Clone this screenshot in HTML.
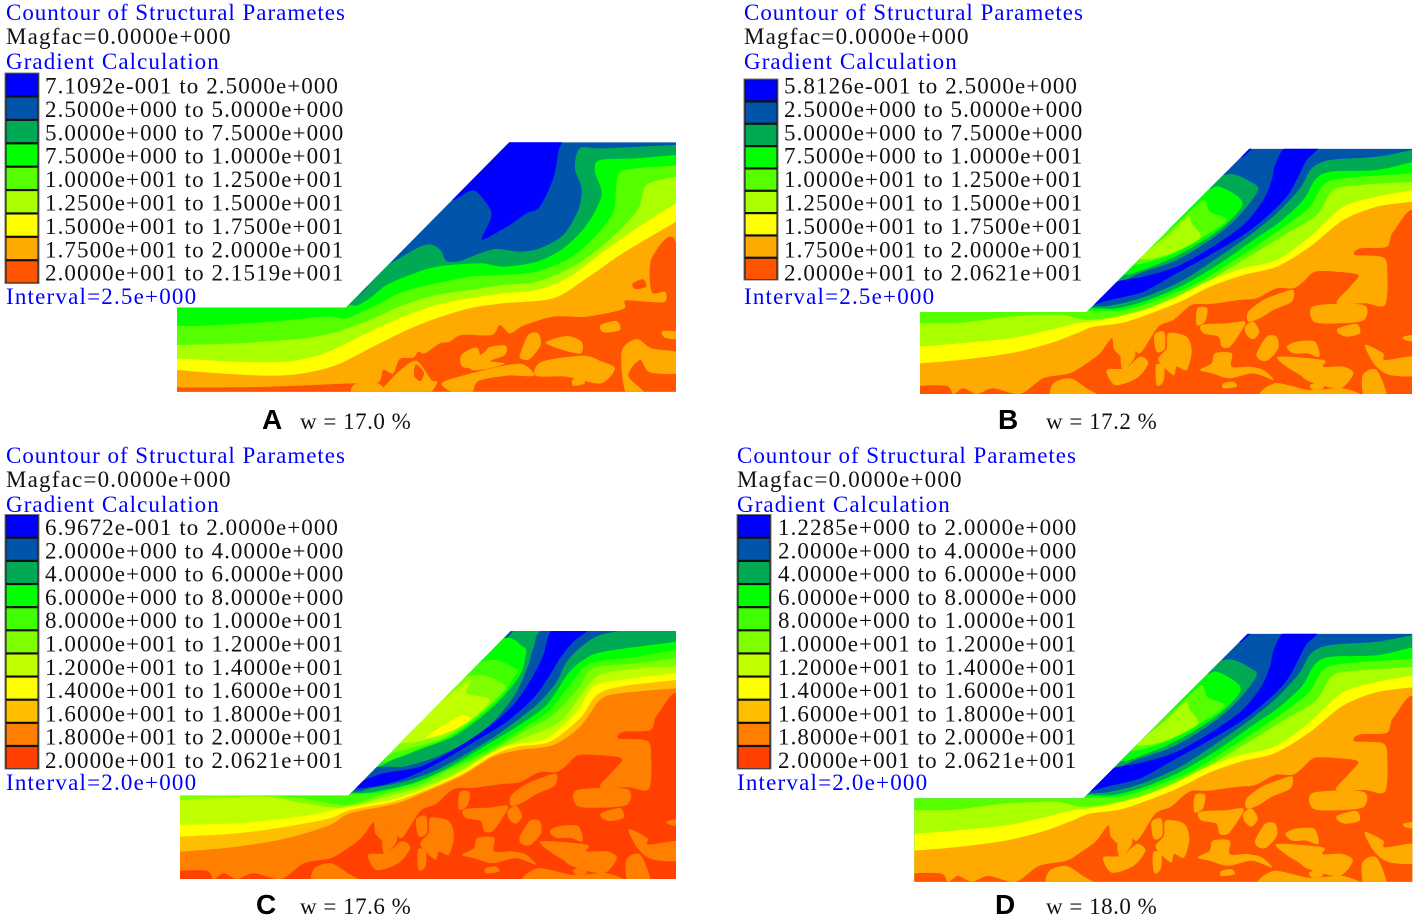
<!DOCTYPE html>
<html lang="en">
<head>
<meta charset="utf-8">
<title>Contours of structural parameters</title>
<style>
html,body{margin:0;padding:0;background:#fff;}
#figure{display:block;width:1417px;height:921px;}
text{font-family:"Liberation Serif",serif;font-size:23px;letter-spacing:1.08px;}
.blue{fill:#0000ff;}
.black{fill:#111;}
.title{letter-spacing:.98px;}
.wide{letter-spacing:1.2px;}
.tag{font-family:"Liberation Sans",sans-serif;font-weight:bold;font-size:28px;letter-spacing:0;fill:#000;}
.cap{letter-spacing:.5px;fill:#111;}
</style>
</head>
<body>
<svg id="figure" xmlns="http://www.w3.org/2000/svg" width="1417" height="921" viewBox="0 0 1417 921">
  <g>
    <text class="blue title" x="6" y="20">Countour of Structural Parametes</text>
    <text class="black wide" x="6" y="44">Magfac=0.0000e+000</text>
    <text class="blue" x="6" y="69">Gradient Calculation</text>
    <text class="blue wide" x="6" y="304">Interval=2.5e+000</text>
    <text class="tag" x="262" y="429">A</text>
    <text class="cap" x="300" y="429">w = 17.0 %</text>
  </g>
  <g>
    <text class="blue title" x="744" y="20">Countour of Structural Parametes</text>
    <text class="black wide" x="744" y="44">Magfac=0.0000e+000</text>
    <text class="blue" x="744" y="69">Gradient Calculation</text>
    <text class="blue wide" x="744" y="304">Interval=2.5e+000</text>
    <text class="tag" x="998" y="429">B</text>
    <text class="cap" x="1046" y="429">w = 17.2 %</text>
  </g>
  <g>
    <text class="blue title" x="6" y="463">Countour of Structural Parametes</text>
    <text class="black wide" x="6" y="487">Magfac=0.0000e+000</text>
    <text class="blue" x="6" y="512">Gradient Calculation</text>
    <text class="blue wide" x="6" y="790">Interval=2.0e+000</text>
    <text class="tag" x="256" y="914">C</text>
    <text class="cap" x="300" y="914">w = 17.6 %</text>
  </g>
  <g>
    <text class="blue title" x="737" y="463">Countour of Structural Parametes</text>
    <text class="black wide" x="737" y="487">Magfac=0.0000e+000</text>
    <text class="blue" x="737" y="512">Gradient Calculation</text>
    <text class="blue wide" x="737" y="790">Interval=2.0e+000</text>
    <text class="tag" x="995" y="914">D</text>
    <text class="cap" x="1046" y="914">w = 18.0 %</text>
  </g>
  <g id="plots"></g>
</svg>
<script>
/* Legend range labels */
const legendA = ["7.1092e-001 to 2.5000e+000","2.5000e+000 to 5.0000e+000","5.0000e+000 to 7.5000e+000","7.5000e+000 to 1.0000e+001","1.0000e+001 to 1.2500e+001","1.2500e+001 to 1.5000e+001","1.5000e+001 to 1.7500e+001","1.7500e+001 to 2.0000e+001","2.0000e+001 to 2.1519e+001"];
const legendB = ["5.8126e-001 to 2.5000e+000","2.5000e+000 to 5.0000e+000","5.0000e+000 to 7.5000e+000","7.5000e+000 to 1.0000e+001","1.0000e+001 to 1.2500e+001","1.2500e+001 to 1.5000e+001","1.5000e+001 to 1.7500e+001","1.7500e+001 to 2.0000e+001","2.0000e+001 to 2.0621e+001"];
const legendC = ["6.9672e-001 to 2.0000e+000","2.0000e+000 to 4.0000e+000","4.0000e+000 to 6.0000e+000","6.0000e+000 to 8.0000e+000","8.0000e+000 to 1.0000e+001","1.0000e+001 to 1.2000e+001","1.2000e+001 to 1.4000e+001","1.4000e+001 to 1.6000e+001","1.6000e+001 to 1.8000e+001","1.8000e+001 to 2.0000e+001","2.0000e+001 to 2.0621e+001"];
const legendD = ["1.2285e+000 to 2.0000e+000","2.0000e+000 to 4.0000e+000","4.0000e+000 to 6.0000e+000","6.0000e+000 to 8.0000e+000","8.0000e+000 to 1.0000e+001","1.0000e+001 to 1.2000e+001","1.2000e+001 to 1.4000e+001","1.4000e+001 to 1.6000e+001","1.6000e+001 to 1.8000e+001","1.8000e+001 to 2.0000e+001","2.0000e+001 to 2.0621e+001"];

/* Colour scales */
const nineColors = ["#0000ff","#0055aa","#00aa55","#00ff00","#55ff00","#aaff00","#ffff00","#ffaa00","#ff5500"];
const elevenColors = ["#0000ff","#0055aa","#00aa55","#00ff00","#40ff00","#80ff00","#bfff00","#ffff00","#ffbf00","#ff8000","#ff4000"];

/* Panel A contour lines, in mesh units */
const aBlueZone = [[1000,10],[1165,10],[1165,50],[1150,130],[1110,215],[1070,235],[1020,270],[945,312],[938,305],[965,235],[925,175],[900,168],[850,195],[830,170]];
const aLevel3 = [[22,500],[520,500],[640,375],[660,385],[750,335],[790,330],[815,350],[830,378],[870,378],[930,355],[980,342],[1050,350],[1110,340],[1180,300],[1225,225],[1235,160],[1215,100],[1230,40],[1300,40],[1518,30]];
const aLevel4 = [[22,510],[528,510],[545,520],[600,490],[650,450],[720,420],[800,395],[930,385],[1000,395],[1100,380],[1180,340],[1250,270],[1295,180],[1275,110],[1290,75],[1400,70],[1518,60]];
const aLevel5 = [[22,572],[100,572],[300,560],[470,545],[530,550],[620,510],[700,470],[800,445],[900,425],[1000,420],[1100,410],[1200,370],[1270,310],[1330,230],[1345,120],[1400,100],[1518,92]];
const aLevel6 = [[22,630],[200,625],[400,610],[500,590],[600,555],[700,510],[800,480],[900,465],[1000,450],[1100,440],[1200,400],[1300,330],[1400,230],[1430,150],[1518,125]];
const aLevel7 = [[22,670],[200,680],[350,680],[450,660],[520,630],[600,590],[700,545],[800,510],[900,490],[1000,475],[1100,465],[1200,425],[1300,350],[1400,280],[1518,205]];
const aLevel8 = [[22,705],[150,715],[300,722],[400,715],[500,690],[600,640],[700,590],[800,550],[900,520],[1000,505],[1150,490],[1250,430],[1350,360],[1450,300],[1518,260]];
const aRedMass = [[22,745],[35,757],[300,755],[545,745],[625,742],[640,705],[670,715],[690,672],[730,668],[745,650],[765,655],[810,625],[840,620],[875,600],[965,600],[990,570],[1020,595],[1060,572],[1150,545],[1250,545],[1360,522],[1365,497],[1425,500],[1485,500],[1485,470],[1445,470],[1445,370],[1518,325],[1530,775],[10,775]];
const aIslands = [
  [[1050,660],[1075,600],[1105,595],[1112,630],[1080,672],[1055,672]],
  [[1128,622],[1190,603],[1235,620],[1232,655],[1170,642]],
  [[1292,570],[1340,558],[1350,585],[1300,592]],
  [[905,680],[945,650],[960,636],[1008,632],[1005,660],[962,678],[1005,685],[960,700],[905,705]],
  [[875,660],[922,638],[930,695],[878,695]],
  [[1115,680],[1240,662],[1292,678],[1335,700],[1292,745],[1190,725],[1098,722]],
  [[885,720],[1000,692],[1060,688],[1092,722],[1010,722],[925,738],[905,775],[855,775],[815,745]],
  [[548,775],[558,746],[625,745],[642,775]],
  [[655,742],[700,698],[742,678],[785,735],[802,740],[772,775],[640,775]],
  [[1355,650],[1400,612],[1445,640],[1530,655],[1530,712],[1440,712],[1410,675],[1375,722],[1425,775],[1368,775]],
  [[1208,735],[1235,722],[1244,745],[1210,752]],
  [[1478,588],[1530,592],[1530,612],[1485,608]]
];
const aRedSpots = [
  [[738,688],[762,712],[752,738],[733,722]],
  [[1388,445],[1420,433],[1428,455],[1395,462]]
];

/* Panel B / D contour lines, in mesh units */
const bGreenPatch = [[620,415],[700,395],[800,360],[900,300],[975,240],[1030,175],[1045,145],[1030,130],[980,105],[945,105],[900,130]];
const bBrightPatch = [[640,395],[750,370],[850,320],[940,260],[995,200],[985,170],[930,140],[905,145],[860,170]];
const bLimePatch = [[670,370],[780,345],[880,290],[950,240],[900,215],[885,180],[860,195],[800,250]];
const bYellowGreenPatch = [[690,355],[770,345],[870,295],[845,250],[835,228],[780,280]];
const bCrestBlue = [[1005,20],[1030,20],[1000,50],[985,45]];
const bBlueBand = [[530,510],[610,430],[700,410],[800,380],[900,325],[1000,255],[1060,180],[1085,120],[1095,75],[1130,20],[1225,20],[1190,60],[1165,110],[1130,170],[1070,230],[1000,285],[900,345],[800,400],[700,455],[600,480],[545,497]];
const bLevel3 = [[30,500],[525,500],[620,493],[720,465],[820,420],[920,355],[1020,285],[1100,220],[1170,145],[1205,85],[1260,60],[1400,50],[1506,30]];
const bLevel4 = [[30,505],[530,505],[620,505],[720,478],[820,435],[930,370],[1030,300],[1110,245],[1180,180],[1215,120],[1260,95],[1400,90],[1506,66]];
const bLevel5 = [[30,510],[530,512],[640,510],[740,480],[850,435],[950,375],[1050,310],[1130,255],[1200,200],[1240,135],[1300,115],[1506,100]];
const bLevel6 = [[30,550],[150,548],[300,530],[450,525],[530,540],[640,525],[740,495],[850,450],[950,390],[1050,330],[1130,280],[1220,225],[1270,150],[1350,135],[1506,125]];
const bLevel7 = [[30,620],[150,610],[300,595],[420,570],[500,550],[580,540],[700,510],[800,470],[900,420],[1000,385],[1100,360],[1200,290],[1300,200],[1400,170],[1506,150]];
const bLevel8 = [[30,670],[150,660],[300,640],[420,610],[500,580],[550,560],[650,545],[800,490],[900,440],[1000,405],[1100,380],[1200,320],[1300,240],[1400,200],[1506,185]];

/* Panel C contour lines, in mesh units */
const cCrestBand = [[1005,10],[1035,10],[1000,50],[985,55]];
const cBrightPatch = [[960,60],[1060,65],[1065,100],[1050,150],[1000,215],[930,280],[850,335],[760,370],[680,400],[620,410]];
const cLimePatch = [[920,120],[1035,130],[1030,160],[990,215],[920,280],[840,335],[750,370],[690,395],[640,395]];
const cGrassPatch = [[880,160],[1005,180],[975,225],[900,290],[820,340],[740,365],[680,380],[640,385]];
const cPalePatch = [[890,170],[890,205],[960,225],[900,285],[820,330],[740,350],[695,355],[650,365]];
const cYellowPatch = [[770,335],[830,295],[880,270],[900,285],[850,315],[790,335]];
const cDarkBand = [[535,510],[610,430],[700,425],[800,395],[900,345],[980,280],[1040,200],[1075,120],[1090,70],[1130,10],[1370,10],[1290,30],[1240,60],[1190,110],[1160,170],[1110,230],[1050,280],[990,325],[900,380],[800,435],[700,470],[600,490]];
const cBlueBand = [[575,470],[640,445],[750,425],[850,375],[950,310],[1030,240],[1085,160],[1120,90],[1150,10],[1255,10],[1210,50],[1170,100],[1140,150],[1090,220],[1010,290],[930,340],[830,400],[730,450],[640,480],[560,490]];
const cLevel3 = [[30,500],[535,500],[600,495],[720,475],[830,420],[930,365],[1030,295],[1120,230],[1175,150],[1230,85],[1300,50],[1518,28]];
const cLevel4 = [[30,505],[535,505],[640,495],[740,470],[840,425],[940,365],[1040,305],[1130,240],[1195,145],[1240,105],[1300,80],[1518,50]];
const cLevel5 = [[30,508],[540,508],[650,497],[750,470],[850,425],[950,375],[1050,315],[1140,255],[1210,165],[1260,115],[1400,95],[1518,75]];
const cLevel6 = [[30,512],[280,512],[400,520],[530,540],[650,505],[750,480],[850,430],[950,385],[1060,320],[1150,270],[1225,190],[1270,130],[1400,115],[1518,100]];
const cLevel7 = [[30,525],[280,515],[400,535],[520,548],[650,515],[760,485],[860,445],[960,385],[1060,340],[1170,290],[1240,200],[1290,150],[1400,130],[1518,125]];
const cLevel8 = [[30,600],[200,595],[350,580],[450,565],[530,545],[660,525],[770,490],[870,440],[960,385],[1020,360],[1130,340],[1220,260],[1270,185],[1350,165],[1518,145]];
const cLevel9 = [[30,635],[200,625],[350,605],[480,580],[540,555],[670,530],[780,490],[880,445],[970,390],[1040,365],[1140,350],[1230,280],[1280,210],[1350,185],[1518,165]];
const cLevel10 = [[30,680],[200,665],[350,640],[480,600],[540,565],[680,535],[780,495],[880,450],[970,395],[1050,375],[1150,360],[1230,305],[1290,225],[1350,205],[1518,190]];

/* Shared high-value zone for B, C, D, in mesh units of panel B */
const sharedRedMass = [[20,775],[20,740],[110,738],[130,762],[160,745],[200,762],[250,745],[330,762],[400,715],[480,700],[530,670],[570,640],[605,595],[612,628],[640,650],[660,610],[690,640],[745,560],[790,540],[845,495],[900,492],[990,480],[1040,475],[1100,445],[1150,445],[1180,425],[1215,395],[1280,395],[1345,405],[1320,440],[1280,490],[1365,490],[1425,495],[1432,400],[1420,352],[1335,345],[1350,325],[1430,320],[1450,275],[1520,235],[1520,775]];
const sharedIslands = [
  [[1015,515],[1060,480],[1110,460],[1150,450],[1145,485],[1090,510],[1050,535],[1015,545]],
  [[1212,498],[1360,495],[1362,540],[1290,550],[1212,545]],
  [[1040,640],[1070,590],[1100,590],[1105,625],[1075,660],[1050,660]],
  [[1005,560],[1030,545],[1048,575],[1030,598],[1010,585]],
  [[1130,620],[1160,605],[1215,605],[1228,650],[1190,640],[1150,640]],
  [[1285,565],[1340,552],[1350,580],[1310,590],[1285,580]],
  [[862,505],[892,505],[885,545],[860,555]],
  [[875,555],[950,550],[1005,545],[990,580],[960,620],[935,620],[925,590],[880,580]],
  [[733,585],[762,575],[765,625],[740,635]],
  [[915,640],[965,640],[965,680],[1020,680],[1060,690],[1090,720],[1030,700],[960,715],[905,700],[870,690],[905,670]],
  [[1105,650],[1240,660],[1240,680],[1300,680],[1330,700],[1290,745],[1200,725],[1170,705],[1130,680]],
  [[650,620],[670,605],[675,650],[640,690],[632,650]],
  [[590,690],[645,685],[690,650],[715,670],[680,715],[615,735]],
  [[738,675],[762,680],[760,725],[740,735]],
  [[775,580],[830,590],[845,635],[830,690],[800,680],[790,705],[745,660],[770,625]],
  [[1365,615],[1420,640],[1425,660],[1520,650],[1520,705],[1440,705],[1395,675]],
  [[1358,705],[1400,690],[1430,775],[1365,775]],
  [[940,730],[970,725],[980,740],[940,745]],
  [[1200,735],[1235,725],[1240,745],[1210,750]],
  [[1060,775],[1095,730],[1200,750],[1300,745],[1350,775]],
  [[430,730],[480,715],[530,745],[570,775],[430,775]],
  [[1480,590],[1520,585],[1520,605],[1485,600]]
];

/* Panel definitions: mesh extents, screen frame and layer stacks */
const panels = [
  {id:'a', mesh:{x0:22,x1:1518,yTop:22,yBot:770,toeX:528,toeY:518,crestX:1018}, box:{l:177,r:676,t:142.3,b:391.7}, base:'#0055aa', mapColors:nineColors, legendColors:nineColors, labels:legendA,
   swatch:{x:5,w:34,t:73,b:283.5}, labelX:45, labelY:93.5, labelStep:23.4,
   areas:[[0,aBlueZone]], levels:[[2,aLevel3],[3,aLevel4],[4,aLevel5],[5,aLevel6],[6,aLevel7],[7,aLevel8]], red:aRedMass, islands:aIslands, spots:aRedSpots, shared:null},
  {id:'b', mesh:{x0:30,x1:1506,yTop:26,yBot:762,toeX:530,toeY:516,crestX:1018}, box:{l:920,r:1412,t:148.7,b:394}, base:'#0055aa', mapColors:nineColors, legendColors:nineColors, labels:legendB,
   swatch:{x:744,w:34,t:79,b:280}, labelX:784, labelY:93.5, labelStep:23.4,
   areas:[[2,bGreenPatch],[3,bBrightPatch],[4,bLimePatch],[5,bYellowGreenPatch],[0,bCrestBlue],[0,bBlueBand]], levels:[[2,bLevel3],[3,bLevel4],[4,bLevel5],[5,bLevel6],[6,bLevel7],[7,bLevel8]], red:sharedRedMass, islands:sharedIslands, spots:[], shared:true},
  {id:'c', mesh:{x0:30,x1:1518,yTop:18,yBot:762,toeX:535,toeY:512,crestX:1022}, box:{l:180,r:676,t:631,b:879}, base:'#00aa55', mapColors:elevenColors, legendColors:elevenColors, labels:legendC,
   swatch:{x:5,w:34,t:514.5,b:769}, labelX:45, labelY:535, labelStep:23.3,
   areas:[[1,cCrestBand],[3,cBrightPatch],[4,cLimePatch],[5,cGrassPatch],[6,cPalePatch],[7,cYellowPatch],[1,cDarkBand],[0,cBlueBand]], levels:[[2,cLevel3],[3,cLevel4],[4,cLevel5],[5,cLevel6],[6,cLevel7],[7,cLevel8],[8,cLevel9],[9,cLevel10]], red:sharedRedMass, islands:sharedIslands, spots:[], shared:true},
  {id:'d', mesh:{x0:28,x1:1522,yTop:26,yBot:770,toeX:535,toeY:520,crestX:1028}, box:{l:914.3,r:1412.3,t:633.7,b:881.7}, base:'#0055aa', mapColors:nineColors, legendColors:elevenColors, labels:legendD,
   swatch:{x:737,w:34,t:514.5,b:769}, labelX:778, labelY:535, labelStep:23.3,
   areas:[[2,bGreenPatch],[3,bBrightPatch],[4,bLimePatch],[5,bYellowGreenPatch],[0,bCrestBlue],[0,bBlueBand]], levels:[[2,bLevel3],[3,bLevel4],[4,bLevel5],[5,bLevel6],[6,bLevel7],[7,bLevel8]], red:sharedRedMass, islands:sharedIslands, spots:[], shared:true}
];

const SVGNS = 'http://www.w3.org/2000/svg';
const plots = document.getElementById('plots');

function axisFunctions(p){
  const sx = (p.box.r - p.box.l) / (p.mesh.x1 - p.mesh.x0);
  const sy = (p.box.b - p.box.t) / (p.mesh.yBot - p.mesh.yTop);
  return {
    x: v => p.box.l + (v - p.mesh.x0) * sx,
    y: v => p.box.t + (v - p.mesh.yTop) * sy
  };
}
/* Spline through every contour point, so bands keep their read widths */
function splineSegments(P, closed){
  const n = P.length;
  const f = 1 / 7;
  let d = 'M' + P[0][0].toFixed(1) + ' ' + P[0][1].toFixed(1);
  const count = closed ? n : n - 1;
  for(let i = 0; i < count; i++){
    const p0 = closed ? P[(i - 1 + n) % n] : P[Math.max(i - 1, 0)];
    const p1 = P[i];
    const p2 = closed ? P[(i + 1) % n] : P[i + 1];
    const p3 = closed ? P[(i + 2) % n] : P[Math.min(i + 2, n - 1)];
    const c1x = p1[0] + (p2[0] - p0[0]) * f;
    const c1y = p1[1] + (p2[1] - p0[1]) * f;
    const c2x = p2[0] - (p3[0] - p1[0]) * f;
    const c2y = p2[1] - (p3[1] - p1[1]) * f;
    d += 'C' + c1x.toFixed(1) + ' ' + c1y.toFixed(1) + ' ' + c2x.toFixed(1) + ' ' + c2y.toFixed(1) + ' ' + p2[0].toFixed(1) + ' ' + p2[1].toFixed(1);
  }
  return d;
}
function closedArea(pts, ax){
  return splineSegments(pts.map(q => [ax.x(q[0]), ax.y(q[1])]), true) + 'Z';
}
function belowCurve(pts, ax, p){
  const last = pts[pts.length - 1];
  const bot = ax.y(p.mesh.yBot) + 3;
  return splineSegments(pts.map(q => [ax.x(q[0]), ax.y(q[1])]), false) + 'L' + ax.x(last[0]).toFixed(1) + ' ' + bot.toFixed(1) + 'L' + ax.x(pts[0][0]).toFixed(1) + ' ' + bot.toFixed(1) + 'Z';
}
function addPath(parent, d, fill){
  const el = document.createElementNS(SVGNS, 'path');
  el.setAttribute('d', d);
  el.setAttribute('fill', fill);
  parent.appendChild(el);
  return el;
}

panels.forEach(function(p){
  const ax = axisFunctions(p);
  const m = p.mesh;
  /* when shared zones are drawn, they are expressed in panel-B mesh units */
  const bMesh = panels[1].mesh;
  const sharedAx = {
    x: v => ax.x(m.x0 + (v - bMesh.x0) * (m.x1 - m.x0) / (bMesh.x1 - bMesh.x0)),
    y: v => ax.y(m.yTop + (v - bMesh.yTop) * (m.yBot - m.yTop) / (bMesh.yBot - bMesh.yTop))
  };
  const layerAx = (p.id === 'd') ? sharedAx : ax;
  const zoneAx = p.shared ? sharedAx : ax;

  const g = document.createElementNS(SVGNS, 'g');
  
  

  const clip = document.createElementNS(SVGNS, 'clipPath');
  clip.setAttribute('id', 'mesh-' + p.id);
  const outline = document.createElementNS(SVGNS, 'polygon');
  const corners = [[m.x0,m.toeY],[m.toeX,m.toeY],[m.crestX,m.yTop],[m.x1,m.yTop],[m.x1,m.yBot],[m.x0,m.yBot]];
  outline.setAttribute('points', corners.map(c => ax.x(c[0]).toFixed(1) + ',' + ax.y(c[1]).toFixed(1)).join(' '));
  clip.appendChild(outline);
  g.appendChild(clip);

  const inner = document.createElementNS(SVGNS, 'g');
  inner.setAttribute('clip-path', 'url(#mesh-' + p.id + ')');
  g.appendChild(inner);

  const base = addPath(inner, 'M' + ax.x(m.x0) + ' ' + ax.y(m.yTop) + 'H' + ax.x(m.x1) + 'V' + ax.y(m.yBot) + 'H' + ax.x(m.x0) + 'Z', p.base);
  
  

  p.areas.forEach(function(a){
    const el = addPath(inner, closedArea(a[1], layerAx), p.mapColors[a[0]]);
    
    
  });
  p.levels.forEach(function(l){
    const el = addPath(inner, belowCurve(l[1], layerAx, p), p.mapColors[l[0]]);
    
    
  });

  const top = p.mapColors[p.mapColors.length - 1];
  const under = p.mapColors[p.mapColors.length - 2];
  const red = addPath(inner, closedArea(p.red, zoneAx), top);
  
  
  p.islands.forEach(function(isl){
    const el = addPath(inner, closedArea(isl, zoneAx), under);
    
    
  });
  p.spots.forEach(function(s){
    const el = addPath(inner, closedArea(s, zoneAx), top);
    
    
  });
  plots.appendChild(g);

  /* legend */
  const lg = document.createElementNS(SVGNS, 'g');
  
  
  const n = p.labels.length;
  const step = (p.swatch.b - p.swatch.t) / n;
  const frame = document.createElementNS(SVGNS, 'rect');
  frame.setAttribute('x', p.swatch.x);
  frame.setAttribute('y', p.swatch.t);
  frame.setAttribute('width', p.swatch.w);
  frame.setAttribute('height', p.swatch.b - p.swatch.t);
  frame.setAttribute('fill', '#111');
  frame.setAttribute('stroke', '#777');
  frame.setAttribute('stroke-width', '1');
  
  
  lg.appendChild(frame);
  p.labels.forEach(function(label, i){
    const r = document.createElementNS(SVGNS, 'rect');
    r.setAttribute('x', p.swatch.x + 1.5);
    r.setAttribute('y', p.swatch.t + step * i + 1.2);
    r.setAttribute('width', p.swatch.w - 3);
    r.setAttribute('height', step - 2.2);
    r.setAttribute('fill', p.legendColors[i]);
    
    
    lg.appendChild(r);
    const t = document.createElementNS(SVGNS, 'text');
    t.setAttribute('x', p.labelX);
    t.setAttribute('y', p.labelY + p.labelStep * i);
    t.setAttribute('class', 'black');
    t.textContent = label;
    
    
    lg.appendChild(t);
  });
  plots.appendChild(lg);
});
</script>
</body>
</html>
